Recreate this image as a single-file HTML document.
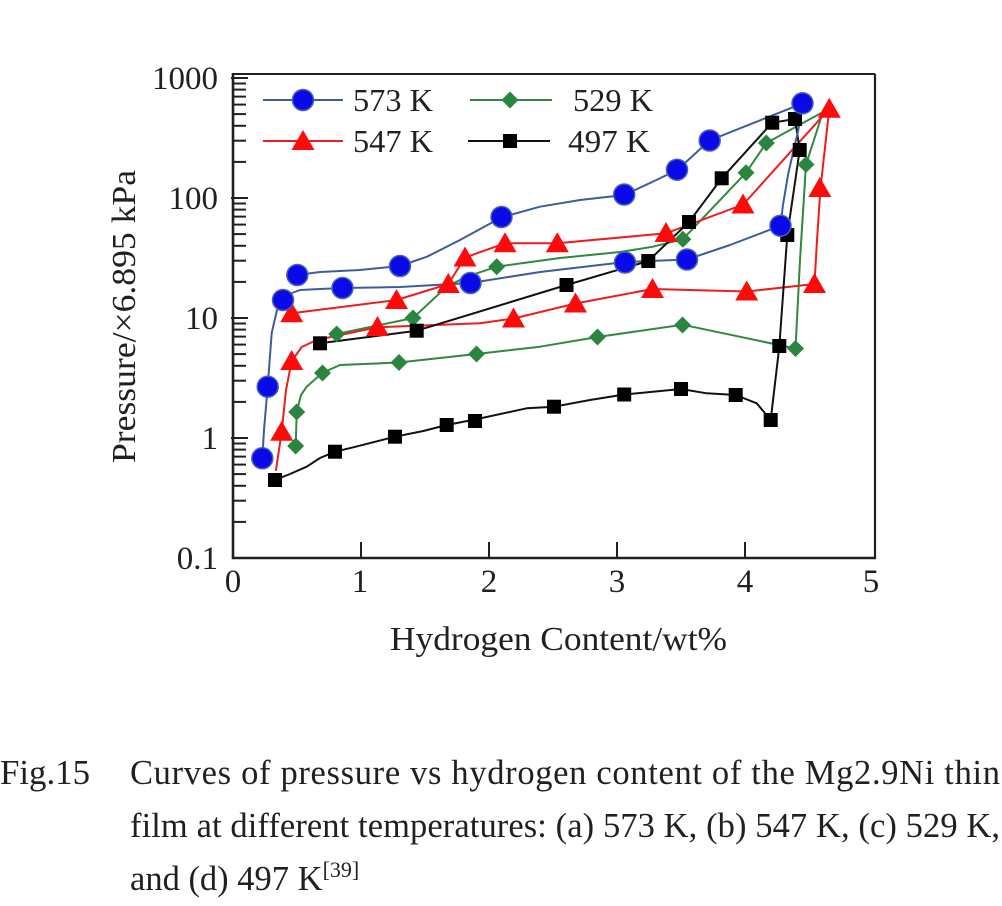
<!DOCTYPE html>
<html><head><meta charset="utf-8"><style>
html,body{margin:0;padding:0;background:#fff;}
svg{display:block;}
text{font-family:"Liberation Serif",serif;fill:#231f20;}
</style></head><body>
<svg width="1002" height="906" viewBox="0 0 1002 906" xmlns="http://www.w3.org/2000/svg">
<rect width="1002" height="906" fill="#fff"/>
<!-- frame -->
<g stroke="#231f20" fill="none">
<line x1="233" y1="74" x2="875" y2="74" stroke-width="2"/>
<line x1="875" y1="74" x2="875" y2="559" stroke-width="2.2"/>
<line x1="233" y1="73" x2="233" y2="559" stroke-width="2.6"/>
<line x1="232" y1="558" x2="876" y2="558" stroke-width="2.6"/>
</g>
<!-- y ticks -->
<g stroke="#231f20" stroke-width="2">
<line x1="231" y1="78" x2="248" y2="78"/><line x1="231" y1="198" x2="248" y2="198"/><line x1="231" y1="318" x2="248" y2="318"/><line x1="231" y1="438" x2="248" y2="438"/>
<!-- minor 0.1-1 -->
<line x1="233" y1="521.9" x2="246" y2="521.9"/><line x1="233" y1="500.7" x2="246" y2="500.7"/><line x1="233" y1="485.8" x2="246" y2="485.8"/><line x1="233" y1="474.1" x2="246" y2="474.1"/><line x1="233" y1="464.6" x2="246" y2="464.6"/><line x1="233" y1="456.6" x2="246" y2="456.6"/><line x1="233" y1="449.6" x2="246" y2="449.6"/><line x1="233" y1="443.5" x2="246" y2="443.5"/>
<!-- 1-10 -->
<line x1="233" y1="401.9" x2="246" y2="401.9"/><line x1="233" y1="380.7" x2="246" y2="380.7"/><line x1="233" y1="365.8" x2="246" y2="365.8"/><line x1="233" y1="354.1" x2="246" y2="354.1"/><line x1="233" y1="344.6" x2="246" y2="344.6"/><line x1="233" y1="336.6" x2="246" y2="336.6"/><line x1="233" y1="329.6" x2="246" y2="329.6"/><line x1="233" y1="323.5" x2="246" y2="323.5"/>
<!-- 10-100 -->
<line x1="233" y1="281.9" x2="246" y2="281.9"/><line x1="233" y1="260.7" x2="246" y2="260.7"/><line x1="233" y1="245.8" x2="246" y2="245.8"/><line x1="233" y1="234.1" x2="246" y2="234.1"/><line x1="233" y1="224.6" x2="246" y2="224.6"/><line x1="233" y1="216.6" x2="246" y2="216.6"/><line x1="233" y1="209.6" x2="246" y2="209.6"/><line x1="233" y1="203.5" x2="246" y2="203.5"/>
<!-- 100-1000 -->
<line x1="233" y1="161.9" x2="246" y2="161.9"/><line x1="233" y1="140.7" x2="246" y2="140.7"/><line x1="233" y1="125.8" x2="246" y2="125.8"/><line x1="233" y1="114.1" x2="246" y2="114.1"/><line x1="233" y1="104.6" x2="246" y2="104.6"/><line x1="233" y1="96.6" x2="246" y2="96.6"/><line x1="233" y1="89.6" x2="246" y2="89.6"/><line x1="233" y1="83.5" x2="246" y2="83.5"/>
</g>
<!-- x ticks -->
<g stroke="#231f20" stroke-width="2">
<line x1="361" y1="558" x2="361" y2="542"/><line x1="489" y1="558" x2="489" y2="542"/><line x1="617" y1="558" x2="617" y2="542"/><line x1="745" y1="558" x2="745" y2="542"/>
</g>
<!-- tick labels -->
<g font-size="33" text-anchor="end">
<text x="218" y="89">1000</text>
<text x="218" y="209">100</text>
<text x="218" y="329">10</text>
<text x="218" y="449">1</text>
<text x="218" y="569">0.1</text>
</g>
<g font-size="33" text-anchor="middle">
<text x="233" y="592">0</text>
<text x="360" y="592">1</text>
<text x="489" y="592">2</text>
<text x="617" y="592">3</text>
<text x="745" y="592">4</text>
<text x="871" y="592">5</text>
</g>
<!-- axis labels -->
<text x="558.5" y="650" font-size="34" text-anchor="middle" textLength="337" lengthAdjust="spacingAndGlyphs">Hydrogen Content/wt%</text>
<text transform="translate(135,316.5) rotate(-90)" font-size="34" text-anchor="middle" textLength="293" lengthAdjust="spacingAndGlyphs">Pressure/×6.895 kPa</text>

<!-- series lines -->
<g fill="none" stroke-linejoin="round" stroke-linecap="round">
<polyline stroke="#2f8a3e" stroke-width="2" points="336.7,334 413,318 446.7,286.7 466.7,276.7 496.7,266.7 560,258 620,252 653,246.7 682.8,239.3 746,172.7 766.3,143 829,108.7"/>
<polyline stroke="#2f8a3e" stroke-width="2" points="295.7,446 296.7,412 301,395 306.7,386.7 322.5,372.8 340,365 398.8,362.5 476.5,354 540,346.7 597.5,337 682.5,324.7 795.5,348.5 800,260 806,164.5 823,112"/>
<polyline stroke="#ee1c1c" stroke-width="2" points="291.7,313.3 396.7,300 448.3,284 465,257.5 505,243.3 557.3,243.3 666,233.3 743.3,204.5 829.3,108.7"/>
<polyline stroke="#ee1c1c" stroke-width="2" points="276,470 281.7,431.7 286,390 291.7,361 301.7,347 316.7,340 377.3,327.3 480,323.3 513.7,318.5 575.5,303.5 652.5,289 746.7,291.5 814.5,284 817,240 820.5,188 829.3,108.7"/>
<polyline stroke="#111" stroke-width="2" points="275,480 290,474 306.7,466.7 320,458 335,451.7 353.3,447.3 395,436.7 423.3,431 446.7,425 475,419.5 526.7,408.3 554,406.7 590,400 624.2,394.5 681,389 706.7,393.3 735.7,395 756.7,403.3 770.7,420 779.3,346.7 787.3,235 799.7,150 795,119"/>
<polyline stroke="#111" stroke-width="2" points="320,343.3 416.7,330.7 566.5,285 648.3,261 689,222 721.7,178.3 772.2,122.7 795,119"/>
<polyline stroke="#3d5c9c" stroke-width="2" points="262.3,458.3 264,430 267.7,386.7 271.7,333 277,310 283,300 292,293 300,290 320,289 342.5,288 400,287 470.5,283 540,272 625,262 687,259.5 730,245 780.7,225.7 782.7,206.7 788.3,173.3 798.3,130 802.7,103.3"/>
<polyline stroke="#3d5c9c" stroke-width="2" points="297.3,275 320,272 360,270 400,266 427,256.7 460,240 501.7,217.3 540,206.7 580,200 624.3,195 650,183 677.3,170 709.5,140.5 802.7,103.3"/>
</g>

<defs>
<path id="dia" d="M0,-8.5 L8.5,0 L0,8.5 L-8.5,0 Z" fill="#2a8540"/>
<path id="tri" d="M0,-11 L11.5,9 L-11.5,9 Z" fill="#ff0a0a"/>
<rect id="sq" x="-7" y="-7" width="14" height="14" fill="#000"/>
<circle id="cir" r="10.5" fill="#0a0ae8" stroke="#4a60b8" stroke-width="1.5"/>
</defs>
<!-- green diamonds -->
<g>
<use href="#dia" x="295.7" y="446"/><use href="#dia" x="296.7" y="412"/><use href="#dia" x="322.5" y="373"/><use href="#dia" x="399" y="362.5"/><use href="#dia" x="476.5" y="354"/><use href="#dia" x="597.5" y="337"/><use href="#dia" x="682.5" y="325"/><use href="#dia" x="795.5" y="348.5"/><use href="#dia" x="806" y="164.5"/><use href="#dia" x="336.7" y="334"/><use href="#dia" x="413" y="318"/><use href="#dia" x="496.7" y="266.7"/><use href="#dia" x="682.8" y="239.3"/><use href="#dia" x="746" y="172.7"/><use href="#dia" x="766.3" y="143"/>
</g>
<!-- red triangles -->
<g>
<use href="#tri" x="281.7" y="431.7"/><use href="#tri" x="291.7" y="361"/><use href="#tri" x="377.5" y="327"/><use href="#tri" x="513.5" y="318.5"/><use href="#tri" x="575.5" y="303.5"/><use href="#tri" x="652.5" y="289"/><use href="#tri" x="746.7" y="291.5"/><use href="#tri" x="814.5" y="284"/><use href="#tri" x="819.8" y="188"/><use href="#tri" x="829.3" y="108.7"/><use href="#tri" x="291.7" y="313.3"/><use href="#tri" x="396.5" y="300"/><use href="#tri" x="448.3" y="284"/><use href="#tri" x="465" y="257.5"/><use href="#tri" x="505" y="243.2"/><use href="#tri" x="557.3" y="243.3"/><use href="#tri" x="666" y="233"/><use href="#tri" x="743" y="204.5"/>
</g>
<!-- black squares -->
<g>
<use href="#sq" x="275" y="480"/><use href="#sq" x="335" y="451.7"/><use href="#sq" x="395" y="436.7"/><use href="#sq" x="446.7" y="425"/><use href="#sq" x="475" y="421"/><use href="#sq" x="554" y="406.7"/><use href="#sq" x="624.2" y="394.5"/><use href="#sq" x="681" y="389"/><use href="#sq" x="735.7" y="395"/><use href="#sq" x="770.7" y="420"/><use href="#sq" x="779.3" y="346"/><use href="#sq" x="787.3" y="235"/><use href="#sq" x="799.7" y="150"/><use href="#sq" x="795" y="119"/><use href="#sq" x="320" y="343.3"/><use href="#sq" x="416.7" y="330.7"/><use href="#sq" x="566.5" y="285"/><use href="#sq" x="648.3" y="261"/><use href="#sq" x="689" y="222"/><use href="#sq" x="721.7" y="178.3"/><use href="#sq" x="772.2" y="122.7"/>
</g>
<!-- blue circles -->
<g>
<use href="#cir" x="262.3" y="458.3"/><use href="#cir" x="267.7" y="386.7"/><use href="#cir" x="283" y="300"/><use href="#cir" x="342.5" y="288"/><use href="#cir" x="470.5" y="283"/><use href="#cir" x="625" y="262.5"/><use href="#cir" x="687" y="259.5"/><use href="#cir" x="780.5" y="225.7"/><use href="#cir" x="802.5" y="103.3"/><use href="#cir" x="297.3" y="275"/><use href="#cir" x="400" y="266"/><use href="#cir" x="501.5" y="217"/><use href="#cir" x="624.2" y="194.5"/><use href="#cir" x="677" y="169.7"/><use href="#cir" x="709.7" y="140.5"/>
</g>

<!-- legend -->
<g stroke-width="2">
<line x1="263" y1="100" x2="343" y2="100" stroke="#3d5c9c"/>
<line x1="263" y1="141" x2="343" y2="141" stroke="#ee1c1c"/>
<line x1="470" y1="100" x2="552" y2="100" stroke="#2f8a3e"/>
<line x1="468" y1="141" x2="550" y2="141" stroke="#111"/>
</g>
<use href="#cir" x="303" y="100"/>
<use href="#tri" x="303" y="141"/>
<use href="#dia" x="510" y="100"/>
<use href="#sq" x="510" y="141"/>
<g font-size="32">
<text x="353" y="111" textLength="80" lengthAdjust="spacingAndGlyphs">573 K</text>
<text x="353" y="152" textLength="80" lengthAdjust="spacingAndGlyphs">547 K</text>
<text x="573" y="111" textLength="80" lengthAdjust="spacingAndGlyphs">529 K</text>
<text x="568" y="152" textLength="82" lengthAdjust="spacingAndGlyphs">497 K</text>
</g>

<!-- caption -->
<g font-size="34.5">
<text x="0" y="784" textLength="90" lengthAdjust="spacingAndGlyphs">Fig.15</text>
<text x="130" y="784" textLength="870" lengthAdjust="spacing">Curves of pressure vs hydrogen content of the Mg2.9Ni thin</text>
<text x="130" y="837" textLength="870" lengthAdjust="spacing">film at different temperatures: (a) 573 K, (b) 547 K, (c) 529 K,</text>
<text x="130" y="890">and (d) 497 K<tspan font-size="22" dy="-13">[39]</tspan></text>
</g>
</svg>
</body></html>
